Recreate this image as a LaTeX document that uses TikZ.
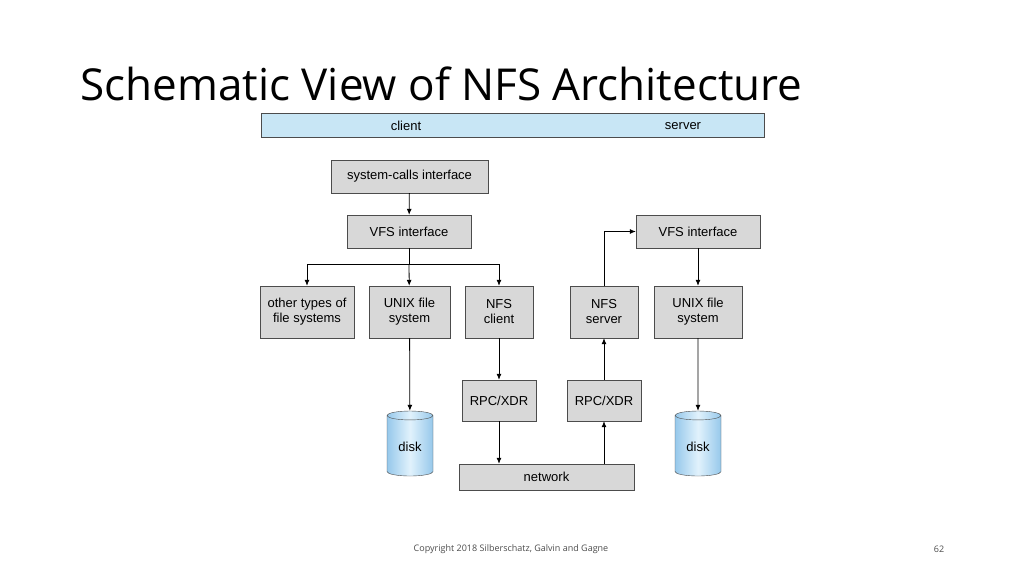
\documentclass[tikz,border=0pt]{standalone}
\usepackage{fontspec}
\setmainfont{Liberation Sans}
\newfontfamily\titlefont{Open Sans}
\usetikzlibrary{shapes.geometric, arrows.meta}

\definecolor{box_gray}{RGB}{216,216,216}
\definecolor{bar_blue}{RGB}{200,230,245}
\definecolor{disk_blue}{RGB}{150,200,235}
\definecolor{disk_light}{RGB}{225,242,252}

\tikzset{
  block/.style = {rectangle, draw=black!70, fill=box_gray, align=center, font=\fontsize{13}{15}\selectfont, inner sep=0pt},
  disk/.style = {cylinder, shape border rotate=90, aspect=0.3, draw=black!70, left color=disk_blue, right color=disk_blue, middle color=disk_light, minimum width=46pt, minimum height=65pt, font=\fontsize{13}{15}\selectfont},
  line/.style = {draw, thick, -{Latex[length=6pt,width=5pt]}}
}

\begin{document}
\begin{tikzpicture}[x=1pt, y=-1pt]
	\useasboundingbox (0,0) rectangle (1024,575);

	\node [anchor=base west, font=\titlefont\fontsize{44}{50}\selectfont] (title) at (77,101) {Schematic View of NFS Architecture};
	\node [rectangle, draw=black!70, fill=bar_blue, minimum width=503pt, minimum height=24pt] (bar) at (512.5,125) {};
	\node [font=\fontsize{13}{15}\selectfont] (client_lbl) at (406,126) {client};
	\node [font=\fontsize{13}{15}\selectfont] (server_lbl) at (683,126) {server};

	\node [block, minimum width=157pt, minimum height=33pt] (syscalls) at (409.5,176.5) {system-calls interface};
	\node [block, minimum width=124pt, minimum height=33pt] (vfs_c) at (409,231.5) {VFS interface};
	\node [block, minimum width=94pt, minimum height=52pt] (other) at (307,312) {other types of\\file systems};
	\node [block, minimum width=81pt, minimum height=52pt] (unix_c) at (409.5,312) {UNIX file\\system};
	\node [block, minimum width=68pt, minimum height=52pt] (nfs_c) at (499,312) {NFS\\client};
	\node [block, minimum width=68pt, minimum height=52pt] (nfs_s) at (604,312) {NFS\\server};
	\node [block, minimum width=88pt, minimum height=52pt] (unix_s) at (698,312) {UNIX file\\system};
	\node [block, minimum width=124pt, minimum height=33pt] (vfs_s) at (698,231.5) {VFS interface};
	\node [block, minimum width=74pt, minimum height=41pt] (rpc_c) at (499,400.5) {RPC/XDR};
	\node [block, minimum width=74pt, minimum height=41pt] (rpc_s) at (604,400.5) {RPC/XDR};
	\node [block, minimum width=175pt, minimum height=26pt] (network) at (546.5,477) {network};
	\node [disk] (disk_c) at (410,447) {disk};
	\node [disk] (disk_s) at (698,447) {disk};
	\coordinate (split) at (409,264);

	\node [font=\fontsize{9}{11}\selectfont\titlefont, text=black!70] (copy) at (511,549) {Copyright 2018 Silberschatz, Galvin and Gagne};
	\node [font=\fontsize{9}{11}\selectfont\titlefont, text=black!70] (page) at (939,549) {62};

	\path [line] (syscalls) -- (vfs_c);
	\draw [thick] (vfs_c) -- (split);
	\path [line] (split) -| (other);
	\path [line] (split) -- (unix_c);
	\path [line] (split) -| (nfs_c);
	\path [line] (unix_c) -- (disk_c);
	\path [line] (nfs_c) -- (rpc_c);
	\path [line] (rpc_c) -- (rpc_c |- network.north);
	\path [line] (rpc_s |- network.north) -- (rpc_s);
	\path [line] (rpc_s) -- (nfs_s);
	\path [line] (nfs_s) |- (vfs_s);
	\path [line] (vfs_s) -- (unix_s);
	\path [line] (unix_s) -- (disk_s);
\end{tikzpicture}
\end{document}
